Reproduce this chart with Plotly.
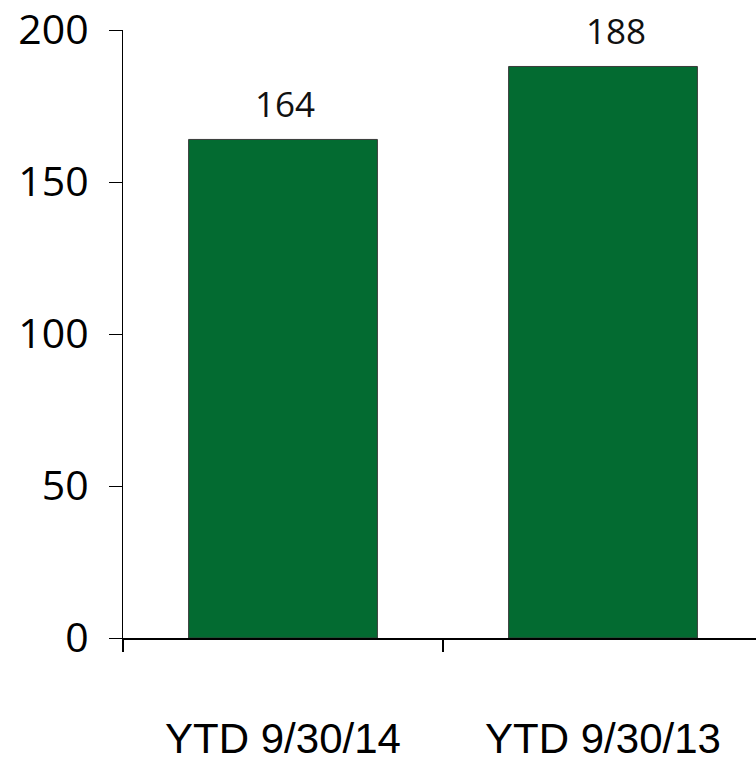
import plotly.graph_objects as go

categories = ["YTD 9/30/14", "YTD 9/30/13"]
values = [164, 188]
y_ticks = [0, 50, 100, 150, 200]

bar_color = "#036B31"

fig = go.Figure()
fig.add_trace(go.Bar(
    x=categories,
    y=values,
    width=0.59,
    marker=dict(color=bar_color, line=dict(color="#3a3a3a", width=1)),
    showlegend=False,
    hoverinfo="skip",
))

for i, (c, v) in enumerate(zip(categories, values)):
    fig.add_annotation(
        x=c, y=v, xref="x", yref="y",
        text=str(v), showarrow=False,
        yanchor="bottom", yshift=10, xshift=2 if i == 0 else 13,
        font=dict(family="Open Sans", size=35, color="#111111"),
    )

fig.update_layout(
    width=756, height=762,
    margin=dict(l=123, r=0, t=28, b=121, pad=0),
    paper_bgcolor="white",
    plot_bgcolor="white",
    bargap=0.41,
)

fig.update_xaxes(
    type="category",
    range=[-0.5, -0.5 + 633 / 320],
    showline=True, linecolor="black", linewidth=2,
    ticks="outside", ticklen=12, tickcolor="black", tickwidth=1.5,
    tickson="boundaries",
    tickfont=dict(family="Liberation Sans, Arial", size=42, color="black"),
    ticklabelstandoff=63,
    showgrid=False, zeroline=False,
)

fig.update_yaxes(
    range=[0, 200],
    tickvals=y_ticks,
    ticktext=[str(t) for t in y_ticks],
    showline=True, linecolor="black", linewidth=1.2,
    ticks="outside", ticklen=13, tickcolor="black", tickwidth=1.2,
    tickfont=dict(family="Open Sans", size=41, color="black"),
    ticklabelstandoff=12,
    ticklabeloverflow="allow",
    showgrid=False, zeroline=False,
)

fig.write_html("out.html")
